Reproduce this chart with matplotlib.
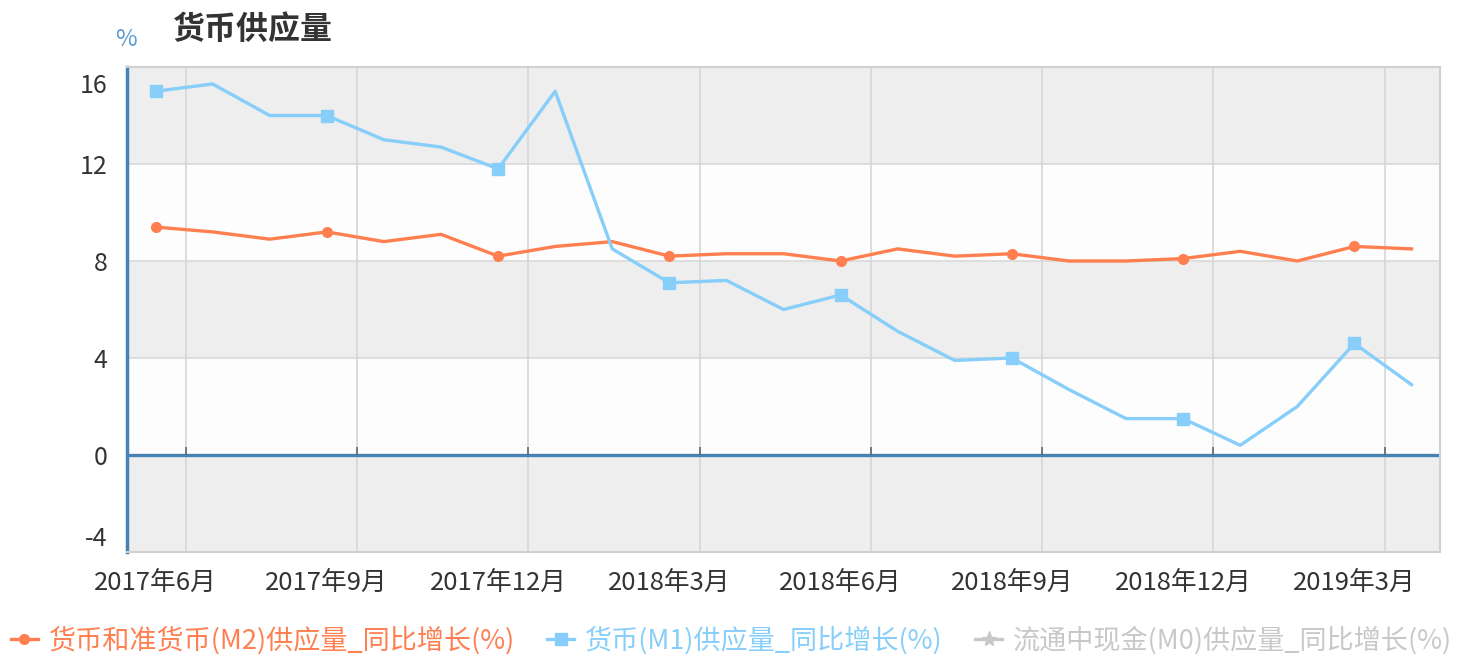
import numpy as np
import matplotlib
matplotlib.use('Agg')
import matplotlib.pyplot as plt
from matplotlib.lines import Line2D
from matplotlib.transforms import ScaledTranslation

plt.rcParams['font.family'] = ['Noto Sans CJK SC', 'DejaVu Sans']
plt.rcParams['axes.unicode_minus'] = False

months = ['2017年6月', '2017年7月', '2017年8月', '2017年9月', '2017年10月', '2017年11月',
          '2017年12月', '2018年1月', '2018年2月', '2018年3月', '2018年4月', '2018年5月',
          '2018年6月', '2018年7月', '2018年8月', '2018年9月', '2018年10月', '2018年11月',
          '2018年12月', '2019年1月', '2019年2月', '2019年3月', '2019年4月']
m2 = [9.4, 9.2, 8.9, 9.2, 8.8, 9.1, 8.2, 8.6, 8.8, 8.2, 8.3, 8.3,
      8.0, 8.5, 8.2, 8.3, 8.0, 8.0, 8.1, 8.4, 8.0, 8.6, 8.5]
m1 = [15.0, 15.3, 14.0, 14.0, 13.0, 12.7, 11.8, 15.0, 8.5, 7.1, 7.2, 6.0,
      6.6, 5.1, 3.9, 4.0, 2.7, 1.5, 1.5, 0.4, 2.0, 4.6, 2.9]
yticks = [-4, 0, 4, 8, 12, 16]

c_m2 = '#ff7f50'
c_m1 = '#87cefa'
c_m0 = '#c8c8c8'
c_axis = '#4682b4'

fig = plt.figure(figsize=(14.63, 6.59), dpi=100)
ax = fig.add_axes([0.0868, 0.1624, 0.8975, 0.7359])

x = np.arange(len(months))
tick_idx = list(range(0, len(months), 3))
grid_pos = [i + 0.53 for i in tick_idx]

# alternating bands
for k in range(len(yticks) - 1):
    ax.axhspan(yticks[k], yticks[k + 1], color='#eeeeee' if k % 2 == 0 else '#fdfdfd', zorder=0, lw=0)
for yv in yticks[1:-1]:
    ax.axhline(yv, color='#d9d9d9', lw=1.2, zorder=1)
for xv in grid_pos:
    ax.axvline(xv, color='#d6d6d6', lw=1.2, zorder=1)
ax.axhline(0, color=c_axis, lw=2.4, zorder=2)
ax.vlines(grid_pos, 0, 0.35, color='#666666', lw=1.2, zorder=3)

ax.plot(x, m2, color=c_m2, lw=2.4, marker='o', markersize=7, markevery=3, zorder=4)
ax.plot(x, m1, color=c_m1, lw=2.4, marker='s', markersize=8, markevery=3, zorder=4)

ax.set_xlim(-0.5, 22.5)
ax.set_ylim(-4, 16)
ax.set_yticks(yticks)
ax.set_xticks(tick_idx)
ax.set_xticklabels([months[i] for i in tick_idx])
ax.tick_params(axis='both', length=0, labelsize=18, labelcolor='#333333')
ax.tick_params(axis='x', labelsize=18.5, pad=13)
ax.tick_params(axis='y', pad=14)
for lbl in ax.get_yticklabels():
    if lbl.get_text() == '16':
        lbl.set_va('top')
        lbl.set_transform(lbl.get_transform() + ScaledTranslation(0, -4 / 72, fig.dpi_scale_trans))
    elif lbl.get_text() == '-4':
        lbl.set_va('bottom')

for side in ['top', 'right', 'bottom']:
    ax.spines[side].set_color('#d0d0d0')
    ax.spines[side].set_linewidth(1.5)
ax.spines['left'].set_color(c_axis)
ax.spines['left'].set_linewidth(2.5)

fig.text(0.118, 0.955, '货币供应量', fontsize=23, fontweight='bold', color='#333333', ha='left', va='center')
fig.text(0.086, 0.94, '%', fontsize=17, color='#5b9bd0', ha='center', va='center')

handles = [
    Line2D([], [], color=c_m2, lw=2.4, marker='o', markersize=7),
    Line2D([], [], color=c_m1, lw=2.4, marker='s', markersize=8),
    Line2D([], [], color=c_m0, lw=2.4, marker='*', markersize=11),
]
labels = ['货币和准货币(M2)供应量_同比增长(%)', '货币(M1)供应量_同比增长(%)', '流通中现金(M0)供应量_同比增长(%)']
leg = fig.legend(handles, labels, loc='lower center', bbox_to_anchor=(0.5, -0.03), ncol=3,
                 frameon=False, fontsize=19.5, handlelength=1.0, handletextpad=0.4, columnspacing=1.2)
for t, c in zip(leg.get_texts(), [c_m2, c_m1, c_m0]):
    t.set_color(c)

fig.savefig('out.png', dpi=100)
